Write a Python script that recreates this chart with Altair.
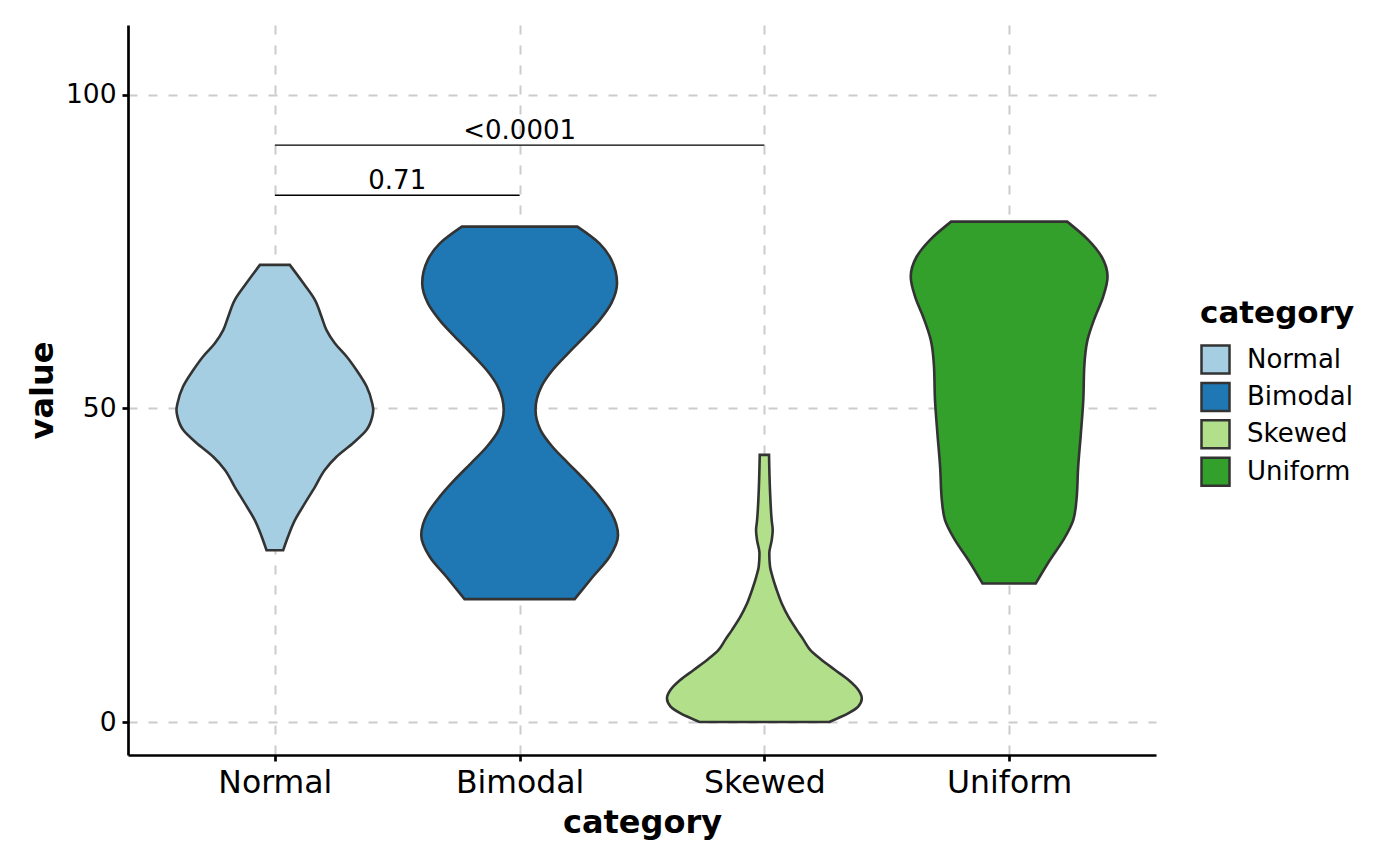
import altair as alt
import pandas as pd

# ---- data ----
categories = ["Normal", "Bimodal", "Skewed", "Uniform"]
fill_colors = ["#A6CEE3", "#1F78B4", "#B2DF8A", "#33A02C"]

# violin outlines: value (y) and half-width (in category-axis units)
normal_value = [27.4, 29.6, 32.2, 34.9, 37.5, 40.2, 42.3, 44.5, 46.6, 48.7, 49.8,
                50.8, 53.5, 56.1, 58.3, 60.4, 62.5, 64.6, 67.3, 70.0, 72.9]
normal_halfwidth = [0.034, 0.054, 0.082, 0.123, 0.164, 0.204, 0.252, 0.320, 0.375, 0.398, 0.402,
                    0.398, 0.375, 0.334, 0.293, 0.245, 0.211, 0.191, 0.164, 0.116, 0.061]

bimodal_value = [19.6, 23.2, 26.4, 29.8, 33.3, 35.9, 38.6, 41.3, 43.9, 46.6, 49.8,
                 53.5, 56.1, 58.8, 61.5, 64.1, 66.8, 70.0, 73.7, 76.3, 79.0]
bimodal_halfwidth = [0.225, 0.300, 0.368, 0.402, 0.375, 0.327, 0.266, 0.198, 0.134, 0.085, 0.065,
                     0.089, 0.134, 0.198, 0.266, 0.327, 0.375, 0.398, 0.375, 0.327, 0.236]

skewed_value = [0.0, 1.4, 2.5, 3.8, 5.1, 6.7, 8.3, 9.9, 11.5, 13.1, 14.7,
                16.8, 18.9, 21.1, 23.2, 24.8, 26.9, 29.0, 30.6, 32.1, 36.9, 42.6]
skewed_halfwidth = [0.265, 0.344, 0.384, 0.398, 0.384, 0.344, 0.289, 0.234, 0.187, 0.160, 0.132,
                    0.098, 0.071, 0.050, 0.033, 0.023, 0.020, 0.030, 0.034, 0.030, 0.023, 0.019]

uniform_value = [22.1, 25.8, 29.0, 32.2, 35.4, 40.7, 46.0, 51.4, 56.7, 60.9,
                 64.6, 67.8, 71.0, 74.2, 76.9, 79.8]
uniform_halfwidth = [0.109, 0.166, 0.221, 0.262, 0.275, 0.282, 0.293, 0.303, 0.307, 0.320,
                     0.351, 0.384, 0.402, 0.378, 0.323, 0.237]

# significance brackets
bracket_start = [1, 1]
bracket_end = [2, 3]
bracket_y = [84.0, 92.0]
bracket_labels = ["0.71", "<0.0001"]

y_ticks = [0, 50, 100]

# ---- build tables ----
rows = []
series = [
    (normal_value, normal_halfwidth),
    (bimodal_value, bimodal_halfwidth),
    (skewed_value, skewed_halfwidth),
    (uniform_value, uniform_halfwidth),
]
for i, (cat, (vals, hws)) in enumerate(zip(categories, series)):
    for v, h in zip(vals, hws):
        rows.append({"category": cat, "pos": i + 1, "value": v, "hw": h})
violin_df = pd.DataFrame(rows)

bracket_df = pd.DataFrame({
    "start": bracket_start,
    "end": bracket_end,
    "y": bracket_y,
    "label": bracket_labels,
})

FONT = "DejaVu Sans"
label_expr = "[" + ",".join(["''"] + [f"'{c}'" for c in categories]) + "][datum.value]"

x_scale = alt.Scale(domain=[0.4, 4.6], nice=False, zero=False)
y_scale = alt.Scale(domain=[-5.26, 111.16], nice=False, zero=False)

violins = (
    alt.Chart(violin_df)
    .transform_calculate(left="datum.pos - datum.hw", right="datum.pos + datum.hw")
    .mark_area(orient="horizontal", interpolate="monotone",
               stroke="#333333", strokeWidth=2.6, opacity=1)
    .encode(
        y=alt.Y("value:Q", scale=y_scale, title="value",
                axis=alt.Axis(values=y_ticks, labelFontSize=26.5, labelPadding=6,
                              titleFontSize=32, titleX=-76, titleBaseline="alphabetic",
                              titleAngle=270)),
        x=alt.X("left:Q", scale=x_scale, title="category",
                axis=alt.Axis(values=[1, 2, 3, 4], labelExpr=label_expr,
                              labelFontSize=31.5, labelPadding=6, labelFlush=False,
                              labelOverlap=False, titleFontSize=32, titleY=77,
                              titleBaseline="alphabetic")),
        x2="right:Q",
        fill=alt.Fill("category:N",
                      scale=alt.Scale(domain=categories, range=fill_colors),
                      legend=alt.Legend(title="category")),
        detail="category:N",
    )
)

rules = (
    alt.Chart(bracket_df)
    .mark_rule(color="black", strokeWidth=1.4)
    .encode(
        x=alt.X("start:Q", scale=x_scale, title="category"),
        x2="end:Q",
        y=alt.Y("y:Q", scale=y_scale, title="value"),
    )
)

texts = (
    alt.Chart(bracket_df)
    .transform_calculate(mid="(datum.start + datum.end) / 2")
    .mark_text(fontSize=26, font=FONT, baseline="alphabetic", dy=-6.5, color="black")
    .encode(
        x=alt.X("mid:Q", scale=x_scale, title="category"),
        y=alt.Y("y:Q", scale=y_scale, title="value"),
        text="label:N",
    )
)

chart = (
    alt.layer(violins, rules, texts)
    .properties(
        width=1028,
        height=730,
        padding={"left": 120, "top": 17, "right": 236, "bottom": 103},
        autosize=alt.AutoSizeParams(type="none"),
        background="white",
    )
    .configure_view(stroke=None)
    .configure_axis(
        domainColor="black", domainWidth=2.7,
        tickColor="black", tickWidth=2.7, tickSize=6,
        labelColor="black", labelFont=FONT,
        titleFont=FONT, titleFontWeight="bold", titleColor="black",
        grid=True, gridColor="#cccccc", gridDash=[9, 11], gridWidth=2,
    )
    .configure_legend(
        orient="none", legendX=1072, legendY=274,
        titleFont=FONT, titleFontSize=31, titleFontWeight="bold", titleColor="black",
        titlePadding=14,
        labelFont=FONT, labelFontSize=26, labelColor="black", labelOffset=16,
        symbolType="square", symbolSize=784,
        symbolStrokeColor="#333333", symbolStrokeWidth=2.5, symbolOpacity=1,
        rowPadding=-1.6, padding=0,
    )
)

chart.save("out.html", embed_options={"renderer": "svg", "actions": False})
